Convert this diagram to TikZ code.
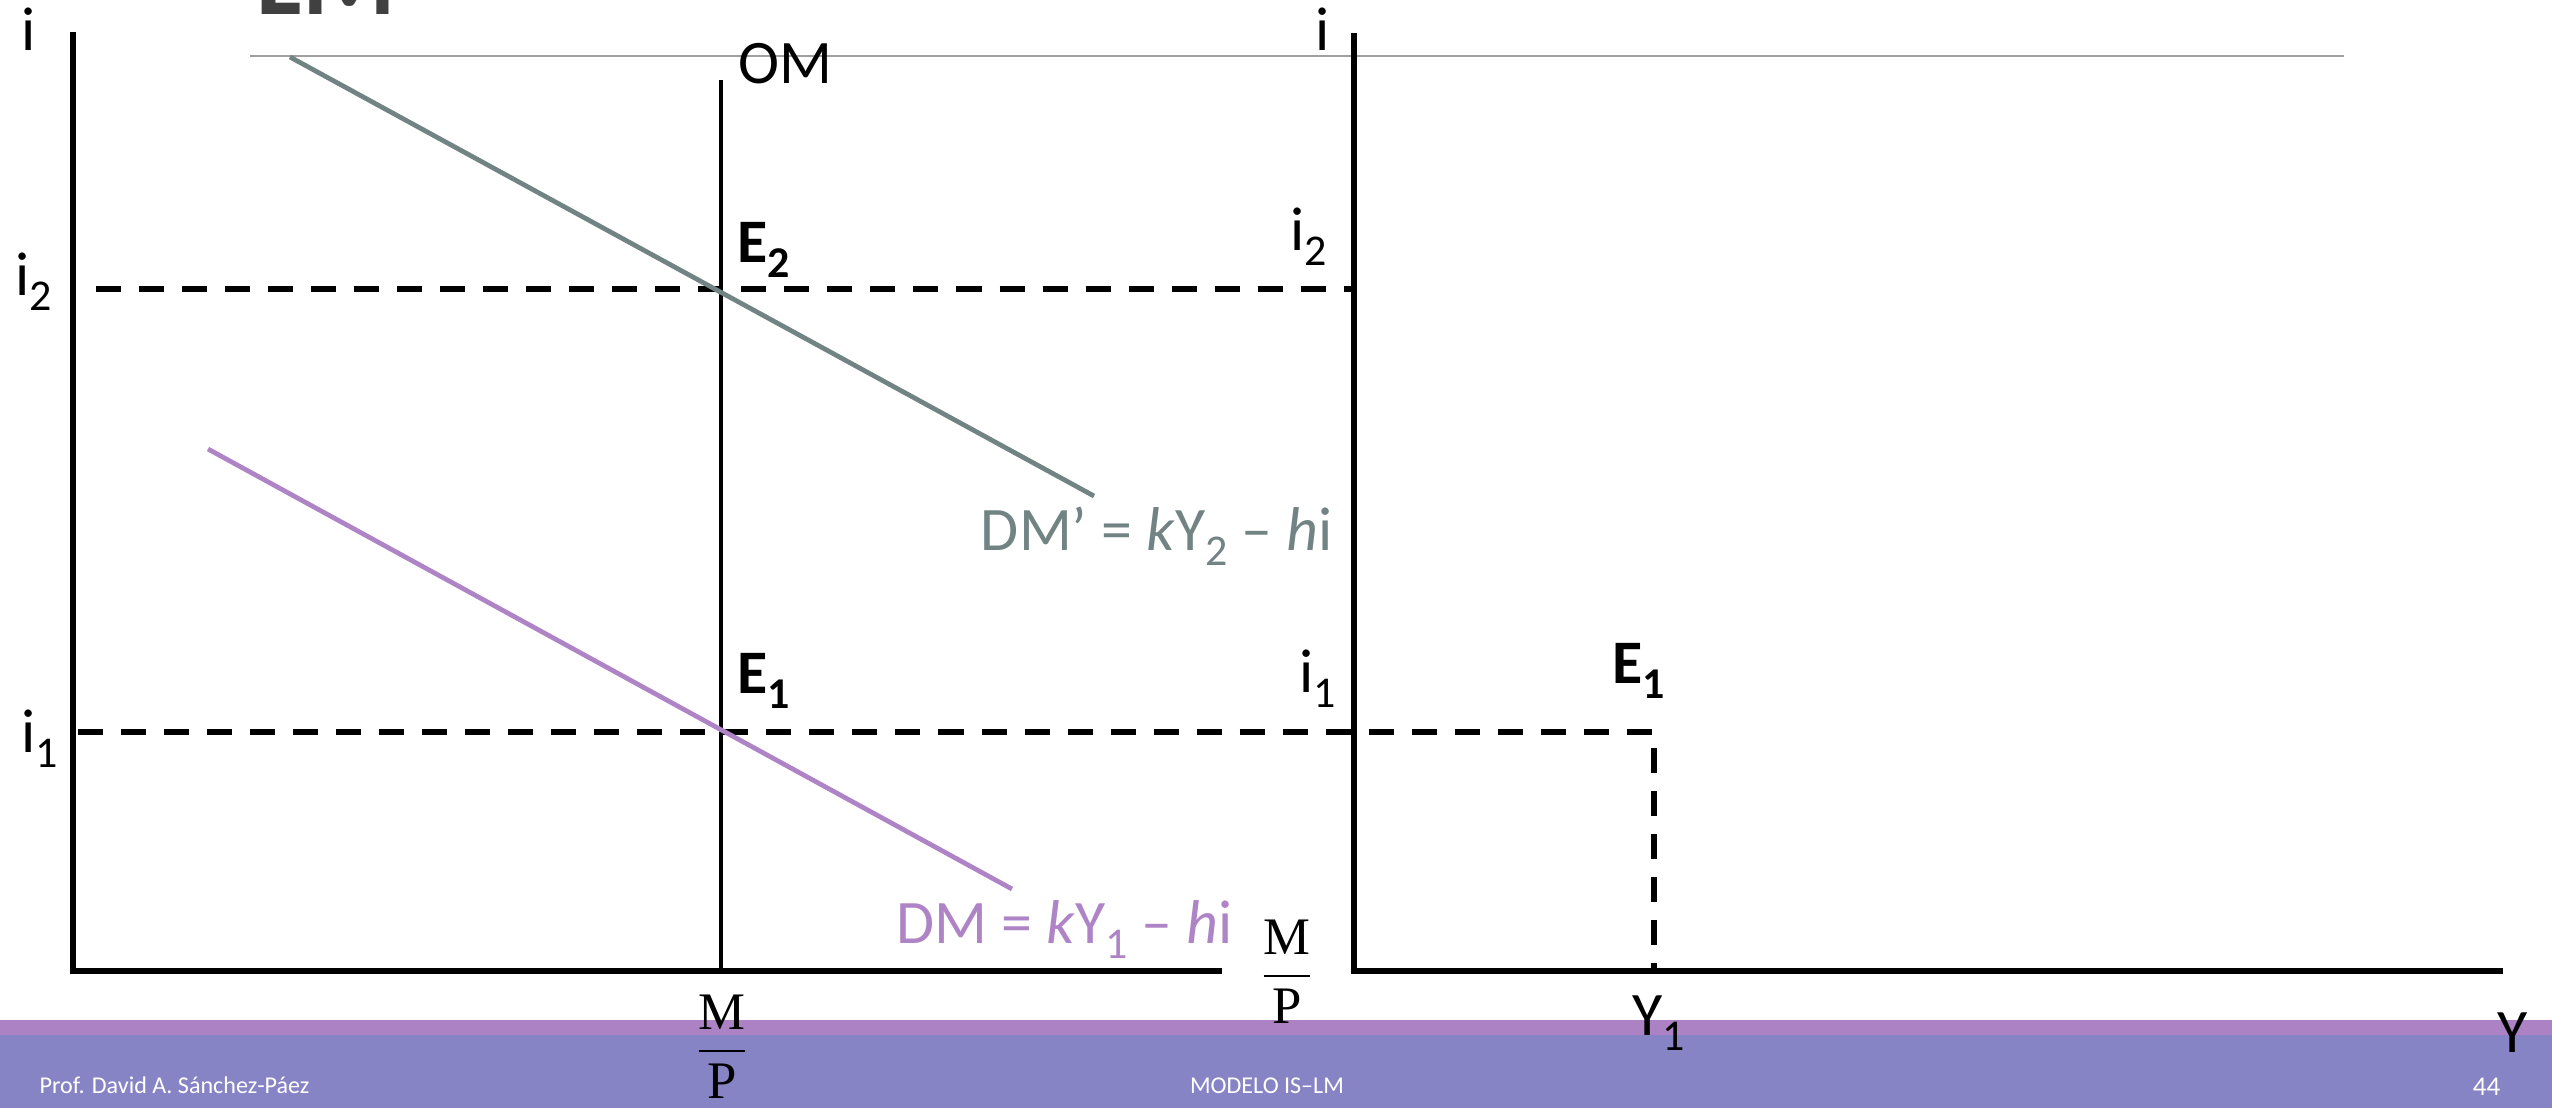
\documentclass[tikz,border=0pt]{standalone}
\usepackage{amsmath}
\usepackage[no-math]{fontspec}
\setmainfont{Carlito}
\newfontfamily\fracfont{Liberation Serif}
\usetikzlibrary{arrows.meta,positioning,calc}
\definecolor{dmgray}{HTML}{718383}
\definecolor{dmpurple}{HTML}{AE84C6}
\definecolor{bandlight}{HTML}{AC82C4}
\definecolor{banddark}{HTML}{8784C5}
\definecolor{titlegray}{HTML}{404040}
\newcommand{\lowsub}[1]{\raisebox{-4.3pt}{\fontsize{12.5}{13}\selectfont #1}}
\newcommand{\mpfrac}{$\dfrac{\text{\fracfont M}}{\text{\fracfont P}}$}

\begin{document}
\begin{tikzpicture}[
        x=0.01cm, y=-0.01cm,
        axis/.style={line width=1.45pt},
        guide/.style={line width=1.45pt,dash pattern=on 0.25cm off 0.18cm},
        curve/.style={line width=1.35pt},
        lbl/.style={inner sep=0pt,font=\fontsize{17.6}{20}\selectfont},
        eqlbl/.style={inner sep=0pt,font=\fontsize{17.6}{20}\selectfont\bfseries},
        frac/.style={inner sep=0pt,font=\fontsize{15}{17}\selectfont},
        foot/.style={inner sep=0pt,text=white,font=\fontsize{6.85}{8}\selectfont}
      ]
      \useasboundingbox (0,0) rectangle (2552,1108);
      \clip (0,0) rectangle (2552,1108);

      % footer band
      \fill[banddark] (0,1035) rectangle (2552,1108);
      \fill[bandlight] (0,1020) rectangle (2552,1035);

      % title remnant
      \node[anchor=base west,inner sep=0pt,text=titlegray,
            font=\fontsize{30.5}{32}\selectfont\bfseries] (title) at (256,14) {LM};
      \coordinate (rl) at (250,56);
      \coordinate (rr) at (2344,56);
      \draw[gray!75,line width=0.55pt] (rl) -- (rr);

      \coordinate (O1) at (73,971);
      \coordinate (T1) at (73,32);
      \coordinate (X1) at (1222,971);
      \coordinate (O2) at (1354,971);
      \coordinate (T2) at (1354,33);
      \coordinate (X2) at (2503,971);
      \coordinate (OMt) at (721,80);
      \coordinate (OMb) at (721,971);
      \coordinate (E2) at (721,289);
      \coordinate (E1) at (721,732);
      \coordinate (E1r) at (1654,732);
      \coordinate (Y1) at (1654,971);
      \coordinate (i2s) at (96,289);
      \coordinate (i2e) at (1354,289);
      \coordinate (i1s) at (78,732);
      \coordinate (dmpA) at (290,57);
      \coordinate (dmpB) at (1094,496);
      \coordinate (dmA) at (208,449);
      \coordinate (dmB) at (1012,889);

      \draw[axis] (T1) -- (O1) -- (X1);
      \draw[axis] (T2) -- (O2) -- (X2);
      \draw[line width=1.3pt] (OMt) -- (OMb);

      \draw[guide] (i2s) -- (i2e);
      \draw[guide] (i1s) -- (E1r) -- (Y1);

      \draw[curve,dmgray] (dmpA) -- (dmpB);
      \draw[curve,dmpurple] (dmA) -- (dmB);

      \node[lbl,anchor=base] (iL) at (29,50) {i};
      \node[lbl,anchor=base] (iR) at (1323,50) {i};
      \node[lbl,anchor=base west] (omlbl) at (738,83) {OM};
      \node[eqlbl,anchor=base west] (e2lbl) at (737,262) {E\lowsub{2}};
      \node[eqlbl,anchor=base west] (e1lbl) at (737,693) {E\lowsub{1}};
      \node[eqlbl,anchor=base west] (e1rlbl) at (1612,683) {E\lowsub{1}};
      \node[lbl,anchor=base west] (i2L) at (15,295) {i\lowsub{2}};
      \node[lbl,anchor=base west] (i2R) at (1290,250) {i\lowsub{2}};
      \node[lbl,anchor=base west] (i1L) at (21,752) {i\lowsub{1}};
      \node[lbl,anchor=base west] (i1R) at (1299,692) {i\lowsub{1}};
      \node[lbl,text=dmgray,anchor=base east] (dmplbl) at (1333,550)
            {DM’ = \textit{k}Y\lowsub{2} – \textit{h}i};
      \node[lbl,text=dmpurple,anchor=base west] (dmlbl) at (896,943)
            {DM = \textit{k}Y\lowsub{1} – \textit{h}i};
      \node[lbl,anchor=base west] (y1lbl) at (1632,1035) {Y\lowsub{1}};
      \node[lbl,anchor=base west] (ylbl) at (2497,1052) {Y};

      \node[frac,anchor=base] (mpL) at (722,1064) {\mpfrac};
      \node[frac,anchor=base] (mpR) at (1287,989) {\mpfrac};

      \node[foot,anchor=base west] (author) at (39,1093) {Prof. David A. Sánchez-Páez};
      \node[foot,anchor=base] (course) at (1267,1093) {MODELO IS–LM};
      \node[foot,anchor=base east,font=\fontsize{7.7}{9}\selectfont] (page) at (2501,1095) {44};
    \end{tikzpicture}
\end{document}
